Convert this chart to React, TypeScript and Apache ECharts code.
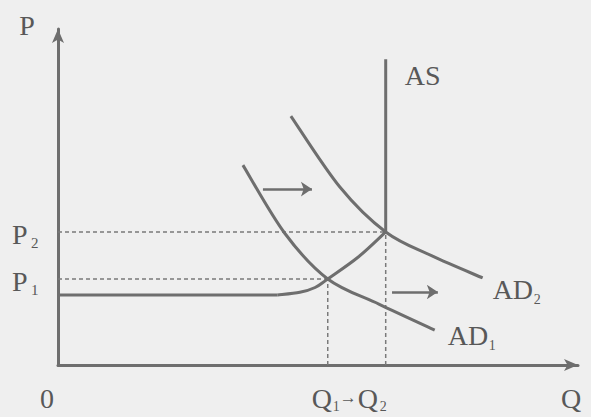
import React, { useEffect, useRef } from "react";
import * as echarts from "echarts";

// Aggregate supply: flat segment, rising curve, then vertical (full capacity)
const asFlat: [number, number][] = [[0, 20.4], [41.7, 20.4]];
const asCurve: [number, number][] = [
  [41.7, 20.4], [45.9, 21.2], [48.8, 22.6], [51.2, 25.1], [57, 31.5], [62.2, 38.8],
];
const asVertical: [number, number][] = [[62.2, 38.8], [62.2, 89.2]];
// Aggregate demand curves
const ad1: [number, number][] = [
  [35.1, 58.3], [43, 38.5], [51.2, 25.1], [61, 17.7], [71.5, 10.2],
];
const ad2: [number, number][] = [
  [44.2, 72.6], [53.5, 51.9], [62.2, 38.8], [71, 31.8], [80.6, 25.4],
];
// Equilibria
const qValues = [51.2, 62.2]; // Q1, Q2
const pValues = [25.1, 38.8]; // P1, P2
// Shift arrows
const shiftArrows: [number, number][][] = [
  [[38.9, 51.3], [48.2, 51.3]],
  [[63.4, 21.3], [72.1, 21.3]],
];
const subscripts = ["1", "2"];

const INK = "#6e6e6e";
const TEXT = "#585858";
const FONT = "Liberation Serif";

function splinePath(pts: number[][]): string {
  if (pts.length < 2) return "";
  let d = `M${pts[0][0]},${pts[0][1]}`;
  for (let i = 0; i < pts.length - 1; i++) {
    const p0 = pts[i - 1] || pts[i];
    const p1 = pts[i];
    const p2 = pts[i + 1];
    const p3 = pts[i + 2] || p2;
    const c1x = p1[0] + (p2[0] - p0[0]) / 6;
    const c1y = p1[1] + (p2[1] - p0[1]) / 6;
    const c2x = p2[0] - (p3[0] - p1[0]) / 6;
    const c2y = p2[1] - (p3[1] - p1[1]) / 6;
    d += ` C${c1x},${c1y} ${c2x},${c2y} ${p2[0]},${p2[1]}`;
  }
  return d;
}

export default function App() {
  const ref = useRef<HTMLDivElement>(null);
  useEffect(() => {
    if (!ref.current) return;
    const chart = echarts.init(ref.current, null, { renderer: "svg" });
    const curveStyle = { color: INK, width: 3 };
    const dashStyle = { color: "#7a7a7a", width: 1.5, type: [4, 3] as any };
    const dashed: any[] = [];
    qValues.forEach((q, i) => {
      const p = pValues[i];
      dashed.push({
        type: "line", data: [[0, p], [q, p]], symbol: "none",
        lineStyle: dashStyle, silent: true, z: 1,
      });
      dashed.push({
        type: "line", data: [[q, 0], [q, p]], symbol: "none",
        lineStyle: dashStyle, silent: true, z: 1,
      });
    });
    const curve = (data: [number, number][]) => ({
      type: "custom",
      data: data,
      z: 3,
      silent: true,
      renderItem: (params: any, api: any) => {
        if (params.dataIndexInside !== 0) return null;
        const pts = data.map((p) => api.coord(p));
        return {
          type: "path",
          shape: { pathData: splinePath(pts) },
          style: { stroke: INK, lineWidth: 3, fill: "none" },
        };
      },
    });
    const straight = (data: [number, number][]) => ({
      type: "line", data, symbol: "none", lineStyle: curveStyle, z: 3,
    });
    chart.setOption({
      animation: false,
      backgroundColor: "#efefef",
      grid: { left: 58, right: 13, top: 29, bottom: 52 },
      xAxis: {
        type: "value", min: 0, max: 98.7,
        axisLine: { show: true, onZero: false, symbol: ["none", "arrow"], symbolSize: [9, 14], lineStyle: { color: INK, width: 3 } },
        axisTick: { show: false }, axisLabel: { show: false }, splitLine: { show: false },
      },
      yAxis: {
        type: "value", min: 0, max: 98,
        axisLine: { show: true, onZero: false, symbol: ["none", "arrow"], symbolSize: [9, 14], lineStyle: { color: INK, width: 3 } },
        axisTick: { show: false }, axisLabel: { show: false }, splitLine: { show: false },
      },
      series: [
        ...dashed,
        straight(asFlat),
        curve(asCurve),
        straight(asVertical),
        curve(ad1),
        curve(ad2),
        {
          type: "lines", coordinateSystem: "cartesian2d",
          data: shiftArrows.map((c) => ({ coords: c })),
          symbol: ["none", "arrow"], symbolSize: 11,
          lineStyle: { color: INK, width: 2.5, opacity: 1 }, z: 3,
        },
      ],
    });

    const px = (pt: [number, number]) => chart.convertToPixel({ gridIndex: 0 }, pt) as number[];
    const txt = (text: string, x: number, y: number, size = 28, align = "left") => ({
      type: "text", x, y,
      style: { text, font: `${size}px "${FONT}"`, fill: TEXT, textAlign: align, textVerticalAlign: "middle" },
    });
    const origin = px([0, 0]);
    const g: any[] = [];
    g.push(txt("P", 27, 25, 28, "center"));
    g.push(txt("0", origin[0] - 11, origin[1] + 33, 28, "center"));
    g.push(txt("Q", 571, origin[1] + 33, 28, "center"));
    pValues.forEach((p, i) => {
      const y = px([0, p])[1];
      g.push(txt("P", 12, y + 3));
      g.push(txt(subscripts[i], 31, y + 11, 15));
    });
    const q1x = px([qValues[0], 0])[0];
    const q2x = px([qValues[1], 0])[0];
    const ly = origin[1] + 33;
    g.push(txt("Q", q1x - 16, ly));
    g.push(txt("1", q1x + 5, ly + 8, 14));
    g.push(txt("→", q1x + 12, ly - 1, 17));
    g.push(txt("Q", q2x - 28, ly));
    g.push(txt("2", q2x - 6, ly + 8, 14));
    const asTop = px(asVertical[1]);
    g.push(txt("AS", asTop[0] + 19, asTop[1] + 16));
    const ad2End = px(ad2[ad2.length - 1]);
    g.push(txt("AD", ad2End[0] + 10, ad2End[1] + 12));
    g.push(txt("2", ad2End[0] + 51, ad2End[1] + 22, 14));
    const ad1End = px(ad1[ad1.length - 1]);
    g.push(txt("AD", ad1End[0] + 13, ad1End[1] + 5));
    g.push(txt("1", ad1End[0] + 54, ad1End[1] + 15, 14));
    chart.setOption({ graphic: g });
    return () => chart.dispose();
  }, []);
  return (
    <div
      ref={ref}
      style={{ position: "fixed", left: 0, top: 0, width: 591, height: 417 }}
    />
  );
}
